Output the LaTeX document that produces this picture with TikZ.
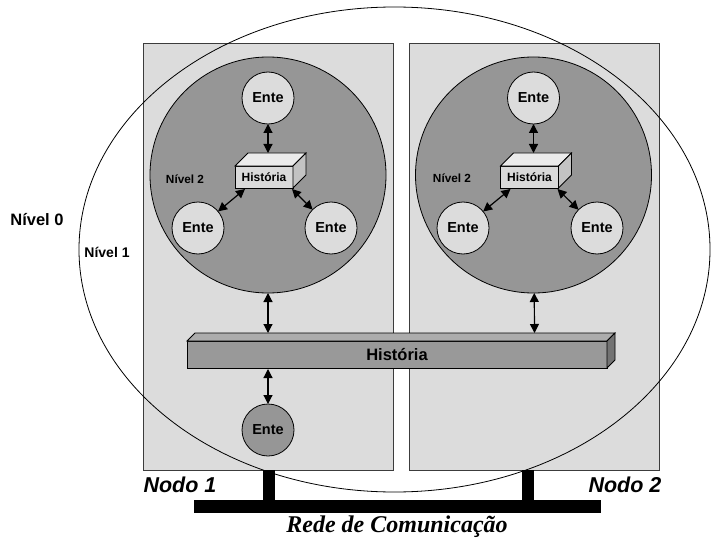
\documentclass[tikz,border=0pt]{standalone}
\usepackage{fontspec}
\setmainfont{Liberation Sans}
\newfontfamily\serifbi{Liberation Serif}
\usetikzlibrary{arrows.meta,calc}
\definecolor{panelgray}{RGB}{220,220,220}
\definecolor{circgray}{RGB}{150,150,150}
\definecolor{entegray}{RGB}{220,220,220}
\definecolor{boxfront}{RGB}{218,218,218}
\definecolor{boxtop}{RGB}{235,235,235}
\definecolor{boxside}{RGB}{195,195,195}
\definecolor{barfront}{RGB}{153,153,153}
\definecolor{bartop}{RGB}{172,172,172}
\definecolor{barside}{RGB}{115,115,115}
\definecolor{edgegray}{RGB}{60,60,60}
\begin{document}
\begin{tikzpicture}[x=1pt,y=-1pt,
  panel/.style={draw=edgegray,line width=0.9pt,fill=panelgray,minimum width=250pt,minimum height=427pt,inner sep=0,outer sep=0},
  bigcirc/.style={circle,draw=black,line width=0.8pt,fill=circgray,minimum size=236pt,inner sep=0,outer sep=0},
  ente/.style={circle,draw=black,line width=0.8pt,fill=entegray,minimum size=52pt,inner sep=0,outer sep=0,font=\fontsize{14.5}{16}\selectfont\bfseries},
  entedark/.style={ente,fill=circgray},
  hbox/.style={draw=black,line width=0.8pt,fill=boxfront,minimum width=58pt,minimum height=22pt,inner sep=0,outer sep=0,font=\fontsize{12}{14}\selectfont\bfseries},
  hbar/.style={draw=black,line width=0.8pt,fill=barfront,minimum width=420pt,minimum height=27pt,inner sep=0,outer sep=0,font=\fontsize{16.5}{18}\selectfont\bfseries},
  dbl/.style={line width=1.2pt,{Triangle[length=9pt,width=9pt]}-{Triangle[length=9pt,width=9pt]}},
  lbl/.style={font=\fontsize{#1}{#1}\selectfont\bfseries,inner sep=0},
  nodo/.style={font=\fontsize{21.5}{22}\selectfont\bfseries\itshape,inner sep=0},
  stub/.style={fill=black,minimum width=12pt,minimum height=31pt,inner sep=0,outer sep=0}
]
\useasboundingbox (0,0) rectangle (711,540);

% panels
\node[panel] (p1) at (268,256.5) {};
\node[panel] (p2) at (534.5,256.5) {};

% level 0 ellipse
\draw[line width=0.8pt] (394.5,249.5) ellipse [x radius=315.5pt, y radius=242.5pt];

% level 2 circles
\node[bigcirc] (c1) at (268,175) {};
\node[bigcirc] (c2) at (533.5,175) {};

% small histories
\foreach \n/\cx in {h1/264, h2/529.5}{
  \node[hbox] (\n) at (\cx,177) {História};
  \draw[line width=0.8pt,fill=boxtop] (\n.north west) -- ++(13,-13) -- ++(58,0) -- (\n.north east) -- cycle;
  \draw[line width=0.8pt,fill=boxside] (\n.north east) -- ++(13,-13) -- ++(0,22) -- (\n.south east) -- cycle;
}

% entes in circle 1
\node[ente] (a1) at (268,98) {Ente};
\node[ente] (a2) at (198,228) {Ente};
\node[ente] (a3) at (331,228) {Ente};
% entes in circle 2
\node[ente] (b1) at (533.5,98) {Ente};
\node[ente] (b2) at (463,228) {Ente};
\node[ente] (b3) at (597,228) {Ente};

\coordinate (h1t) at (268,153);
\coordinate (h1l) at (245,189);
\coordinate (h1r) at (292,189);
\coordinate (h2t) at (533.5,153);
\coordinate (h2l) at (510.5,189);
\coordinate (h2r) at (557.5,189);
\draw[dbl] (a1) -- (h1t);
\draw[dbl] (a2) -- (h1l);
\draw[dbl] (a3) -- (h1r);
\draw[dbl] (b1) -- (h2t);
\draw[dbl] (b2) -- (h2l);
\draw[dbl] (b3) -- (h2r);

% big history bar
\node[hbar] (hb) at (397,354.5) {História};
\draw[line width=0.8pt,fill=bartop] (hb.north west) -- ++(8,-8) -- ++(420,0) -- (hb.north east) -- cycle;
\draw[line width=0.8pt,fill=barside] (hb.north east) -- ++(8,-8) -- ++(0,27) -- (hb.south east) -- cycle;

\coordinate (hbt1) at (268,333);
\coordinate (hbt2) at (534.5,333);
\coordinate (hbb) at (268,369);
\draw[dbl] (c1) -- (hbt1);
\draw[dbl] (c2) -- (hbt2);

\node[entedark] (a0) at (268,430) {Ente};
\draw[dbl] (hbb) -- (a0);

% labels
\node[lbl=16.5] (n0) at (37,220) {Nível 0};
\node[lbl=14] (n1) at (107,252) {Nível 1};
\node[lbl=11.8] (n2a) at (185,179) {Nível 2};
\node[lbl=11.8] (n2b) at (452,178) {Nível 2};

% network
\node[stub] (s1) at (269,485.5) {};
\node[stub] (s2) at (527.5,485.5) {};
\node[fill=black,minimum width=407pt,minimum height=13pt,inner sep=0,outer sep=0] (net) at (397.5,506.5) {};

\node[nodo] (nd1) at (180,485) {Nodo 1};
\node[nodo] (nd2) at (625,485) {Nodo 2};
\node[inner sep=0,font=\serifbi\fontsize{24}{26}\selectfont\bfseries\itshape] (rede) at (397,527) {Rede de Comunicação};
\end{tikzpicture}
\end{document}
